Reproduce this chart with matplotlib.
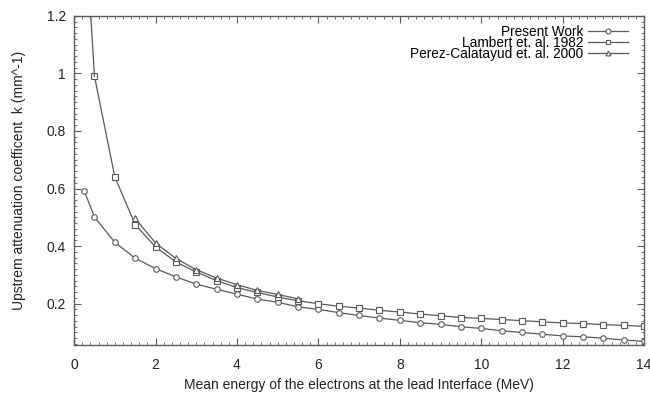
import matplotlib
matplotlib.use("Agg")
import matplotlib.pyplot as plt
from matplotlib.ticker import MultipleLocator

plt.rcParams['font.family'] = ['Liberation Sans', 'DejaVu Sans']

present_x = [0.25, 0.5, 1, 1.5, 2, 2.5, 3, 3.5, 4, 4.5, 5, 5.5, 6, 6.5, 7, 7.5,
             8, 8.5, 9, 9.5, 10, 10.5, 11, 11.5, 12, 12.5, 13, 13.5, 14]
present_y = [0.592, 0.501, 0.413, 0.358, 0.322, 0.293, 0.268, 0.250, 0.233, 0.216,
             0.205, 0.189, 0.180, 0.169, 0.159, 0.150, 0.142, 0.134, 0.128, 0.120,
             0.114, 0.106, 0.100, 0.094, 0.088, 0.085, 0.080, 0.074, 0.069]

lambert_x = [0.25, 0.5, 1, 1.5, 2, 2.5, 3, 3.5, 4, 4.5, 5, 5.5, 6, 6.5, 7, 7.5,
             8, 8.5, 9, 9.5, 10, 10.5, 11, 11.5, 12, 12.5, 13, 13.5, 14]
lambert_y = [1.57, 0.99, 0.640, 0.475, 0.397, 0.345, 0.310, 0.280, 0.256, 0.239,
             0.223, 0.210, 0.200, 0.191, 0.185, 0.177, 0.171, 0.164, 0.158, 0.152,
             0.149, 0.145, 0.141, 0.137, 0.133, 0.131, 0.127, 0.125, 0.121]

perez_x = [1.5, 2, 2.5, 3, 3.5, 4, 4.5, 5, 5.5]
perez_y = [0.496, 0.411, 0.357, 0.318, 0.289, 0.266, 0.246, 0.232, 0.217]

labels = ["Present Work", "Lambert et. al. 1982", "Perez-Calatayud et. al. 2000"]

gray = "#5a5a5a"
txt = "#222222"
fig = plt.figure(figsize=(6.5, 3.94), dpi=100)
ax = fig.add_axes([0.114, 0.124, 0.877, 0.836])

kw = dict(color=gray, lw=0.9, mfc='white', mec=gray, mew=0.8, ms=4)
ax.plot(present_x, present_y, marker='o', label=labels[0], **kw)
ax.plot(lambert_x[1:], lambert_y[1:], marker='s', label=labels[1], **kw)
ax.plot(lambert_x[:2], lambert_y[:2], color=gray, lw=0.9)
ax.plot(perez_x, perez_y, marker='^', label=labels[2], **kw)

ax.set_xlim(0, 14)
ax.set_ylim(0.056, 1.2)
ax.xaxis.set_major_locator(MultipleLocator(2))
ax.xaxis.set_minor_locator(MultipleLocator(0.2))
ax.yaxis.set_minor_locator(MultipleLocator(0.02))
ax.set_yticks([0.2, 0.4, 0.6, 0.8, 1.0, 1.2])
ax.set_yticklabels(["0.2", "0.4", "0.6", "0.8", "1", "1.2"])
ax.tick_params(which='both', direction='in', top=True, right=True, color=gray,
               labelsize=10, labelcolor=txt)
ax.tick_params(axis='x', which='major', pad=9)
ax.tick_params(axis='y', which='major', pad=6)
ax.tick_params(which='major', length=5, width=0.8)
ax.tick_params(which='minor', length=2.5, width=0.6)
for s in ax.spines.values():
    s.set_color(gray)
    s.set_linewidth(1.0)

ax.set_xlabel("Mean energy of the electrons at the lead Interface (MeV)", fontsize=10,
              color=txt)
ax.xaxis.set_label_coords(0.5, -0.1)
ax.set_ylabel("Upstrem attenuation coefficent  k (mm^-1)", fontsize=10, color=txt)
ax.yaxis.set_label_coords(-0.085, 0.5)

leg = ax.legend(loc='upper right', markerfirst=False, frameon=False, fontsize=9.8,
                handlelength=3.0, handletextpad=0.3, labelspacing=-0.22,
                borderaxespad=0.0, bbox_to_anchor=(0.982, 0.988))
for h in leg.legend_handles:
    h.set_markersize(3.5)

fig.savefig("out.png", dpi=100)
